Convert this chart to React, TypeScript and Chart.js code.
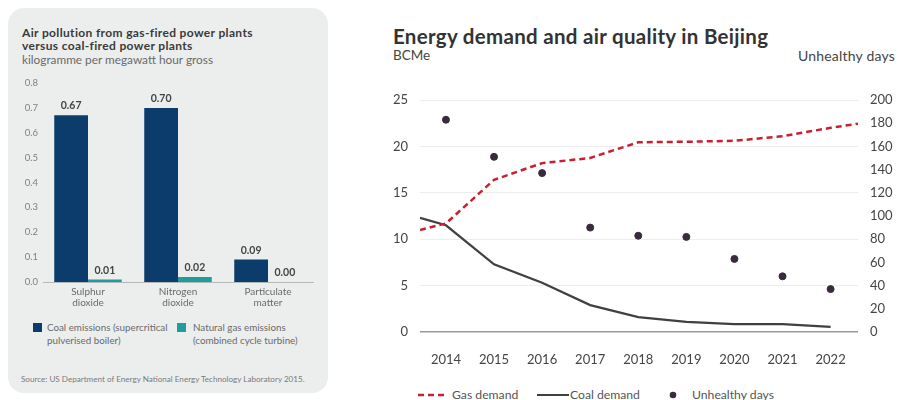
import React, { useEffect, useRef } from "react";
import { Chart, registerables } from "chart.js";

Chart.register(...registerables);

// ---- Left chart data ----
const pollutantCategories = [["Sulphur", "dioxide"], ["Nitrogen", "dioxide"], ["Particulate", "matter"]];
const coalEmissions = [0.67, 0.7, 0.09];
const gasEmissions = [0.01, 0.02, 0.0];
const pollutionTicks = [0, 0.1, 0.2, 0.3, 0.4, 0.5, 0.6, 0.7, 0.8];

// ---- Right chart data ----
const years = [2014, 2015, 2016, 2017, 2018, 2019, 2020, 2021, 2022];
const gasYears = [2013.46, 2014, 2015, 2016, 2017, 2018, 2019, 2020, 2021, 2022, 2022.57];
const gasDemand = [11.0, 11.7, 16.4, 18.2, 18.75, 20.45, 20.5, 20.6, 21.1, 22.0, 22.45];
const coalYears = [2013.46, 2014, 2015, 2016, 2017, 2018, 2019, 2020, 2021, 2022];
const coalDemand = [12.3, 11.5, 7.3, 5.3, 2.9, 1.6, 1.1, 0.85, 0.85, 0.55];
const unhealthyDays = [183, 151, 137, 90, 83, 82, 63, 48, 37];
const bcmeTicks = [0, 5, 10, 15, 20, 25];
const daysTicks = [0, 20, 40, 60, 80, 100, 120, 140, 160, 180, 200];

const FONT = "Lato, 'Open Sans', sans-serif";
const NAVY = "#0b3c6b";
const TEAL = "#1f9c9c";
const RED = "#c8202f";
const COAL = "#404040";
const DOT = "#3a2a3e";

const barLabelPlugin = {
  id: "barLabels",
  afterDatasetsDraw(chart: any) {
    const ctx = chart.ctx;
    ctx.save();
    ctx.font = `bold 10.5px ${FONT}`;
    ctx.fillStyle = "#444";
    ctx.textAlign = "center";
    ctx.textBaseline = "bottom";
    chart.data.datasets.forEach((ds: any, di: number) => {
      const meta = chart.getDatasetMeta(di);
      meta.data.forEach((bar: any, i: number) => {
        const v = ds.data[i];
        ctx.fillText(v.toFixed(2), bar.x, bar.y - 4);
      });
    });
    ctx.restore();
  },
};

function PollutionChart() {
  const ref = useRef<HTMLCanvasElement>(null);
  useEffect(() => {
    const chart = new Chart(ref.current!, {
      type: "bar",
      data: {
        labels: pollutantCategories as any,
        datasets: [
          { label: "Coal", data: coalEmissions, backgroundColor: NAVY },
          { label: "Gas", data: gasEmissions, backgroundColor: TEAL },
        ],
      },
      plugins: [barLabelPlugin],
      options: {
        animation: false,
        responsive: false,
        maintainAspectRatio: false,
        layout: { padding: { top: 13, right: 15, left: 0, bottom: 0 } },
        datasets: { bar: { barPercentage: 1, categoryPercentage: 0.75 } } as any,
        plugins: { legend: { display: false }, tooltip: { enabled: false } },
        scales: {
          x: {
            grid: { display: false, drawTicks: false },
            border: { color: "#b5b8b8", width: 1 },
            ticks: { color: "#6a6a6a", font: { family: FONT, size: 10, lineHeight: 1.1 }, padding: 4 },
            afterFit(s: any) { s.height = 33; },
          },
          y: {
            min: 0,
            max: 0.8,
            grid: { display: false, drawTicks: false },
            border: { display: false },
            afterBuildTicks(s: any) { s.ticks = pollutionTicks.map((v) => ({ value: v })); },
            ticks: {
              color: "#808080",
              font: { family: FONT, size: 9.5 },
              padding: 5,
              callback: (v: any) => Number(v).toFixed(1),
            },
            afterFit(s: any) { s.width = 35; },
          },
        },
      },
    });
    return () => chart.destroy();
  }, []);
  return <canvas ref={ref} width={320} height={245} style={{ position: "absolute", left: 0, top: 62, width: 320, height: 245 }} />;
}

function EnergyChart() {
  const ref = useRef<HTMLCanvasElement>(null);
  useEffect(() => {
    const chart = new Chart(ref.current!, {
      type: "line",
      data: {
        datasets: [
          {
            label: "Gas demand",
            data: gasYears.map((x, i) => ({ x, y: gasDemand[i] })),
            borderColor: RED,
            borderWidth: 2.5,
            borderDash: [6, 4],
            pointRadius: 0,
            tension: 0,
            yAxisID: "y",
          },
          {
            label: "Coal demand",
            data: coalYears.map((x, i) => ({ x, y: coalDemand[i] })),
            borderColor: COAL,
            borderWidth: 2.2,
            pointRadius: 0,
            tension: 0,
            yAxisID: "y",
          },
          {
            label: "Unhealthy days",
            data: years.map((x, i) => ({ x, y: unhealthyDays[i] })),
            showLine: false,
            pointRadius: 3.5,
            pointBackgroundColor: DOT,
            pointBorderColor: DOT,
            borderColor: DOT,
            yAxisID: "y2",
          },
        ],
      },
      options: {
        animation: false,
        responsive: false,
        maintainAspectRatio: false,
        layout: { padding: { top: 20, left: 0, right: 0, bottom: 0 } },
        plugins: { legend: { display: false }, tooltip: { enabled: false } },
        scales: {
          x: {
            type: "linear",
            min: 2013.46,
            max: 2022.57,
            grid: { display: false },
            border: { display: false },
            afterBuildTicks(s: any) { s.ticks = years.map((v) => ({ value: v })); },
            ticks: { color: "#444", font: { family: FONT, size: 13 }, padding: 12, callback: (v: any) => String(v) },
            afterFit(s: any) { s.height = 38; },
          },
          y: {
            position: "left",
            min: 0,
            max: 25,
            afterBuildTicks(s: any) { s.ticks = bcmeTicks.map((v) => ({ value: v })); },
            grid: {
              color: (c: any) => (c.tick && c.tick.value === 0 ? "#9a9a9a" : "#ececec"),
              lineWidth: (c: any) => (c.tick && c.tick.value === 0 ? 1.6 : 1),
              drawTicks: false,
            },
            border: { display: false },
            ticks: { color: "#444", font: { family: FONT, size: 13 }, padding: 12 },
            afterFit(s: any) { s.width = 40; },
          },
          y2: {
            position: "right",
            min: 0,
            max: 200,
            afterBuildTicks(s: any) { s.ticks = daysTicks.map((v) => ({ value: v })); },
            grid: { display: false, drawTicks: false },
            border: { display: false },
            ticks: { color: "#444", font: { family: FONT, size: 13 }, padding: 12 },
            afterFit(s: any) { s.width = 40; },
          },
        },
      },
    });
    return () => chart.destroy();
  }, []);
  return <canvas ref={ref} width={518} height={290} style={{ position: "absolute", left: 380, top: 80, width: 518, height: 290 }} />;
}

export default function App() {
  const txt: React.CSSProperties = { position: "absolute", fontFamily: FONT, whiteSpace: "nowrap", lineHeight: 1 };
  return (
    <div style={{ position: "absolute", left: 0, top: 0, width: 898, height: 400, overflow: "hidden", background: "#fff" }}>
      {/* Left panel */}
      <div style={{ position: "absolute", left: 8, top: 8, width: 320, height: 385, borderRadius: 16, background: "#eceeee" }}>
        <div style={{ ...txt, left: 14, top: 18, fontSize: 12, fontWeight: 700, letterSpacing: 0.35, color: "#3a3a3a", lineHeight: "13px" }}>
          Air pollution from gas-fired power plants<br />versus coal-fired power plants
        </div>
        <div style={{ ...txt, left: 14, top: 46, fontSize: 11.8, color: "#6a6a6a" }}>kilogramme per megawatt hour gross</div>
        <PollutionChart />
        <div style={{ position: "absolute", left: 25, top: 315, width: 9, height: 9, background: NAVY }} />
        <div style={{ ...txt, left: 39, top: 313, fontSize: 9.8, color: "#6a6a6a", lineHeight: "13px" }}>
          Coal emissions (supercritical<br />pulverised boiler)
        </div>
        <div style={{ position: "absolute", left: 169, top: 315, width: 9, height: 9, background: TEAL }} />
        <div style={{ ...txt, left: 185, top: 313, fontSize: 9.8, color: "#6a6a6a", lineHeight: "13px" }}>
          Natural gas emissions<br />(combined cycle turbine)
        </div>
        <div style={{ ...txt, left: 13, top: 367, fontSize: 8.1, color: "#7a7a7a" }}>
          Source: US Department of Energy National Energy Technology Laboratory 2015.
        </div>
      </div>

      {/* Right chart */}
      <div style={{ ...txt, left: 393, top: 26, fontSize: 20.5, fontWeight: 700, letterSpacing: 0.3, color: "#333" }}>
        Energy demand and air quality in Beijing
      </div>
      <div style={{ ...txt, left: 393, top: 49, fontSize: 13.5, color: "#444" }}>BCMe</div>
      <div style={{ ...txt, right: 3, top: 49, fontSize: 14, letterSpacing: 0.2, color: "#444" }}>Unhealthy days</div>
      <EnergyChart />

      {/* Right legend */}
      <svg style={{ position: "absolute", left: 416, top: 390 }} width={34} height={10}>
        <line x1={2} y1={5} x2={32} y2={5} stroke={RED} strokeWidth={2.5} strokeDasharray="6 4" />
      </svg>
      <div style={{ ...txt, left: 452, top: 389, fontSize: 12.2, color: "#555" }}>Gas demand</div>
      <svg style={{ position: "absolute", left: 536, top: 390 }} width={34} height={10}>
        <line x1={1} y1={5} x2={33} y2={5} stroke={COAL} strokeWidth={2} />
      </svg>
      <div style={{ ...txt, left: 570, top: 389, fontSize: 12.2, color: "#555" }}>Coal demand</div>
      <svg style={{ position: "absolute", left: 668, top: 390 }} width={10} height={10}>
        <circle cx={5} cy={5} r={3.3} fill={DOT} />
      </svg>
      <div style={{ ...txt, left: 692, top: 389, fontSize: 12.2, color: "#555" }}>Unhealthy days</div>
    </div>
  );
}
